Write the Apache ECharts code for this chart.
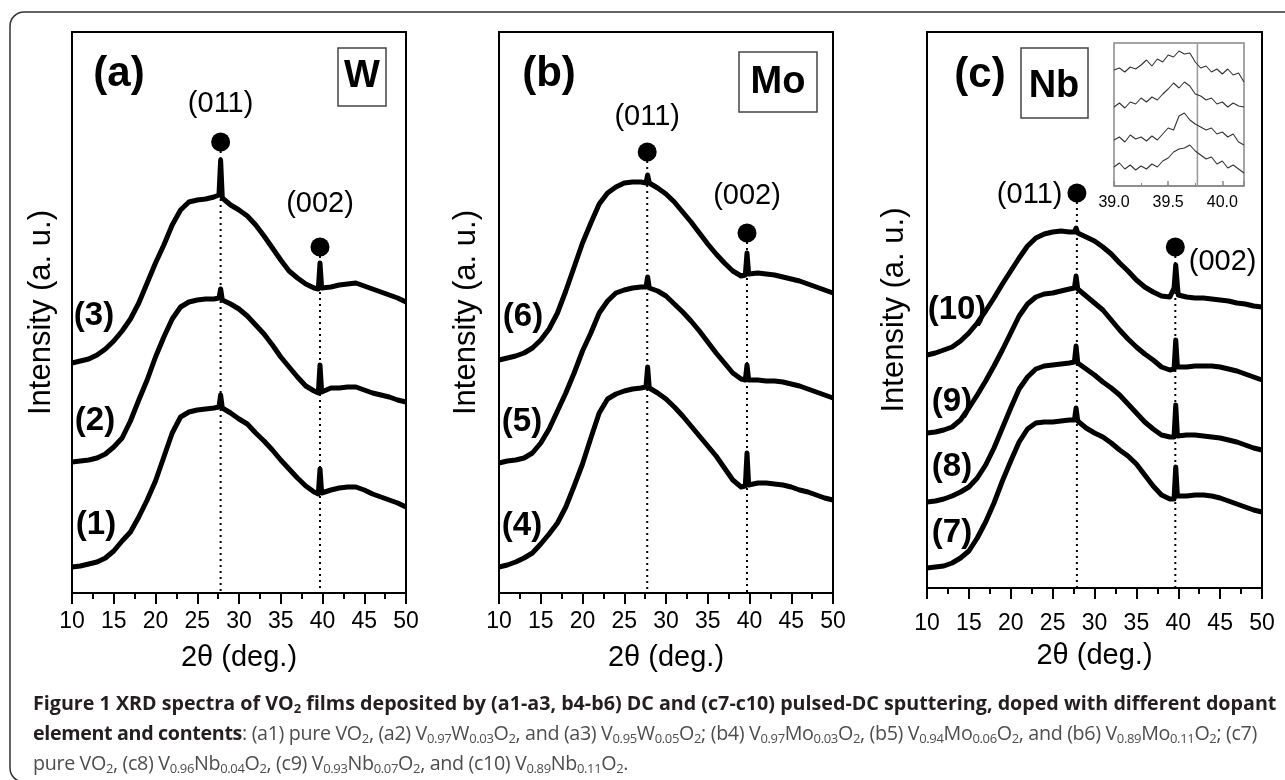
<!DOCTYPE html>
<html><head><meta charset="utf-8">
<script src="https://cdn.jsdelivr.net/npm/echarts/dist/echarts.min.js"></script>
<style>
html,body{margin:0;padding:0;background:#fff;}
#chart{position:absolute;left:0;top:0;width:1285px;height:780px;}
#cap{position:absolute;left:33px;top:688px;font-family:"Open Sans",sans-serif;font-size:19.5px;line-height:30px;color:#4d4d4d;white-space:nowrap;}
#cap b{color:#231f20;}
#cap sub{font-size:0.66em;vertical-align:-0.22em;line-height:0;}
#cap .ln{display:block;}
#cap .ln span{display:inline-block;}
</style></head><body>
<div id="chart"></div>
<div id="cap">
<span class="ln"><span id="l1"><b>Figure 1 XRD spectra of VO<sub>2</sub> films deposited by (a1-a3, b4-b6) DC and (c7-c10) pulsed-DC sputtering, doped with different dopant</b></span></span>
<span class="ln"><span id="l2"><b>element and contents</b>: (a1) pure VO<sub>2</sub>, (a2) V<sub>0.97</sub>W<sub>0.03</sub>O<sub>2</sub>, and (a3) V<sub>0.95</sub>W<sub>0.05</sub>O<sub>2</sub>; (b4) V<sub>0.97</sub>Mo<sub>0.03</sub>O<sub>2</sub>, (b5) V<sub>0.94</sub>Mo<sub>0.06</sub>O<sub>2</sub>, and (b6) V<sub>0.89</sub>Mo<sub>0.11</sub>O<sub>2</sub>; (c7)</span></span>
<span class="ln"><span id="l3">pure VO<sub>2</sub>, (c8) V<sub>0.96</sub>Nb<sub>0.04</sub>O<sub>2</sub>, (c9) V<sub>0.93</sub>Nb<sub>0.07</sub>O<sub>2</sub>, and (c10) V<sub>0.89</sub>Nb<sub>0.11</sub>O<sub>2</sub>.</span></span>
</div>
<script>
// 2-theta sampling (deg.)
const angles = [10,11,12,13,14,15,16,17,18,19,20,21,22,23,24,25,26,27,27.6,27.8,28,29,30,31,32,33,34,35,36,37,38,39,39.5,39.7,39.9,40,41,42,43,44,45,46,47,48,49,50];
// intensities (a.u., stacked offsets as in the figure)
const a1 = [26,27,29,31,35,42,52,61,76,93,112,136,160,176,181,183,184,185,186,198,185,180,174,169,160,152,143,133,124,115,107,101,99,124,100,101,103,105,106,106,103,99,96,93,90,86];
const a2 = [131,132,133,135,139,146,155,172,193,213,236,256,274,286,291,293,294,294,295,304,293,289,284,277,268,259,248,236,226,216,207,202,200,228,201,203,205,205,206,206,203,200,198,196,193,191];
const a3 = [230,232,234,238,244,252,262,274,290,310,330,348,368,383,391,393,394,396,398,433,395,388,383,377,368,357,345,333,322,315,309,305,304,330,305,306,306,308,309,310,307,304,301,298,295,291];
const b4 = [26,28,31,35,40,49,59,70,86,107,129,155,180,194,199,202,204,205,206,226,205,200,194,186,177,167,157,147,137,125,113,106,107,140,108,109,110,110,109,108,106,103,101,98,95,93];
const b5 = [130,132,133,135,140,150,164,182,200,220,242,260,280,292,300,303,305,306,306,316,305,302,297,289,281,272,262,251,240,230,220,214,213,228,213,213,213,212,212,211,209,207,204,201,198,195];
const b6 = [233,235,237,240,245,253,264,280,302,326,350,370,389,400,406,410,411,411,410,418,410,405,399,391,381,371,360,349,339,330,322,317,318,340,319,320,320,319,318,316,314,312,309,306,303,300];
const c7 = [20,21,22,25,30,37,50,66,85,107,127,146,159,165,166,166,167,168,168,180,167,160,155,151,145,138,132,124,113,102,93,89,89,121,92,91,92,93,93,92,90,87,84,81,78,76];
const c8 = [86,87,89,92,96,101,110,123,140,160,180,199,211,219,222,223,224,225,226,242,225,219,213,206,200,193,184,175,166,159,153,151,151,183,152,153,153,153,152,151,150,148,146,143,140,138];
const c9 = [155,156,158,161,168,180,193,207,222,238,255,272,284,291,294,295,297,299,300,312,299,292,285,278,268,258,249,241,234,228,221,218,219,248,221,221,221,222,222,222,221,219,217,214,211,208];
const c10 = [233,235,238,241,247,255,265,277,290,304,317,330,342,350,354,356,357,356,356,360,355,351,347,341,334,325,317,308,301,296,292,291,300,323,302,293,291,290,290,289,288,287,285,284,282,281];
// inset (panel c, 39.0-40.2 deg.)
const insetAngles = [39.00,39.05,39.10,39.15,39.20,39.25,39.30,39.35,39.40,39.45,39.50,39.55,39.60,39.65,39.70,39.75,39.80,39.85,39.90,39.95,40.00,40.05,40.10,40.15,40.20];
const insetTop = [116,118,114,119,117,121,126,120,127,124,131,129,135,132,133,124,118,120,114,117,112,117,111,113,104];
const insetSecond = [79,83,78,84,82,88,84,89,86,92,97,103,98,104,100,92,90,86,88,82,84,79,83,80,79];
const insetThird = [46,49,44,51,47,49,45,50,46,52,58,56,70,73,66,62,59,56,58,52,54,49,52,44,41];
const insetBottom = [19,23,17,21,16,20,17,22,19,25,28,34,37,38,41,35,31,27,29,22,25,18,21,17,13];
const insetRefAngle = [39.77];
// axis ticks
const xMin = 10, xMax = 50, xStep = 5;
const insetTickLabels = [39.0, 39.5, 40.0];
// reflections
const peak011 = [27.8, 27.75, 27.9];
const peak002 = [39.7, 39.7, 39.65];
const dot011 = [451, 441, 395];
const dot002 = [346, 360, 341];
const line011Top = [442, 432, 386];
const line002Top = [337, 351, 332];
const yMaxes = [561, 561, 556];
const curveNames = [['(1)','(2)','(3)'],['(4)','(5)','(6)'],['(7)','(8)','(9)','(10)']];
const dopants = ['W','Mo','Nb'];
const panelLetters = ['(a)','(b)','(c)'];

const zip = (xs, ys) => xs.map((x, i) => [x, ys[i]]);
const F = 'Liberation Sans, Arial, sans-serif';

const grids = [
  {left:72, top:32, width:334, height:561},
  {left:499, top:32, width:334, height:561},
  {left:927, top:32, width:335, height:556},
  {left:1114, top:43, width:130, height:143}
].map((g, i) => Object.assign({show:true, borderColor: i<3?'#000':'#888', borderWidth: i<3?2:1.5, backgroundColor:'transparent'}, g));

const xAxes = [0,1,2].map(i => ({
  gridIndex:i, type:'value', min:xMin, max:xMax, interval:xStep,
  axisLine:{show:true, onZero:false, lineStyle:{color:'#000', width:2}},
  axisTick:{show:true, length:11, lineStyle:{color:'#000', width:2}},
  minorTick:{show:true, splitNumber:2, length:6, lineStyle:{color:'#000', width:2}},
  axisLabel:{fontSize:23, color:'#000', fontFamily:F, margin:i===2?24:17},
  splitLine:{show:false},
  name:'2θ (deg.)', nameLocation:'middle', nameGap:i===2?53:50,
  nameTextStyle:{fontSize:29, color:'#000', fontFamily:F}
}));
xAxes.push({
  gridIndex:3, type:'value', min:insetAngles[0], max:insetAngles[insetAngles.length-1], interval:0.5,
  axisLine:{show:true, onZero:false, lineStyle:{color:'#888', width:1.5}},
  axisTick:{show:true, inside:true, length:5, lineStyle:{color:'#888', width:1.5}},
  minorTick:{show:true, splitNumber:2, length:3, lineStyle:{color:'#888'}},
  axisLabel:{fontSize:16, color:'#000', fontFamily:F, margin:9, showMaxLabel:false,
    formatter: v => insetTickLabels.some(t => Math.abs(t - v) < 1e-6) ? v.toFixed(1) : ''},
  splitLine:{show:false}
});
const yAxes = [0,1,2].map(i => ({
  gridIndex:i, type:'value', min:0, max:yMaxes[i],
  axisLine:{show:true, lineStyle:{color:'#000', width:2}},
  axisTick:{show:false}, axisLabel:{show:false}, splitLine:{show:false},
  name:'Intensity (a. u.)', nameLocation:'middle', nameGap:i===0?15:17,
  nameTextStyle:{fontSize:31, color:'#000', fontFamily:F}
}));
yAxes.push({gridIndex:3, type:'value', min:0, max:143, axisLine:{show:false}, axisTick:{show:false}, axisLabel:{show:false}, splitLine:{show:false}});

const series = [];
const curves = [[a1,a2,a3],[b4,b5,b6],[c7,c8,c9,c10]];
curves.forEach((set, p) => set.forEach(vals => series.push({
  type:'line', xAxisIndex:p, yAxisIndex:p, data:zip(angles, vals), showSymbol:false, silent:true,
  lineStyle:{color:'#000', width:5, join:'round'}, z:3
})));
// dotted reflection guides
[0,1,2].forEach(p => {
  series.push({type:'line', xAxisIndex:p, yAxisIndex:p, data:[[peak011[p], line011Top[p]],[peak011[p], 0]], showSymbol:false, silent:true, lineStyle:{color:'#000', width:2, type:[2,4]}, z:2});
  series.push({type:'line', xAxisIndex:p, yAxisIndex:p, data:[[peak002[p], line002Top[p]],[peak002[p], 0]], showSymbol:false, silent:true, lineStyle:{color:'#000', width:2, type:[2,4]}, z:2});
});
// reflection markers
const lab011 = [{position:'top', distance:14},{position:'top', distance:11},{position:'left', distance:5, offset:[0,2]}];
const lab002 = [{position:'top', distance:19},{position:'top', distance:13},{position:'right', distance:4, offset:[0,15]}];
[0,1,2].forEach(p => {
  series.push({type:'scatter', xAxisIndex:p, yAxisIndex:p, symbolSize:19, itemStyle:{color:'#000', opacity:1}, silent:true, z:5,
    data:[
      {value:[peak011[p], dot011[p]], label:Object.assign({show:true, formatter:'(011)', fontSize:29, color:'#000', opacity:1, fontFamily:F}, lab011[p])},
      {value:[peak002[p], dot002[p]], label:Object.assign({show:true, formatter:'(002)', fontSize:29, color:'#000', opacity:1, fontFamily:F}, lab002[p])}
    ]});
});
// inset
[insetTop, insetSecond, insetThird, insetBottom].forEach(v => series.push({
  type:'line', xAxisIndex:3, yAxisIndex:3, data:zip(insetAngles, v), showSymbol:false, silent:true, lineStyle:{color:'#333', width:1.1}, z:4
}));
series.push({type:'line', xAxisIndex:3, yAxisIndex:3, data:[[insetRefAngle[0],0],[insetRefAngle[0],143]], showSymbol:false, silent:true, lineStyle:{color:'#999', width:1.5}, z:3});

// annotations
const graphic = [
  {type:'rect', shape:{x:10, y:12, width:1300, height:770, r:14}, style:{fill:'none', stroke:'#333', lineWidth:1.5}, silent:true}
];
const letterPos = [[119,74],[549,74],[980,75]];
panelLetters.forEach((t,i) => graphic.push({type:'text', x:letterPos[i][0], y:letterPos[i][1], style:{text:t, font:'bold 42px '+F, fill:'#000', textAlign:'center', textVerticalAlign:'middle'}, z:10}));
const boxes = [[338,48,48,58,362,77],[739,52,78,60,778,83],[1021,48,67,70,1054,87]];
boxes.forEach((b,i) => {
  graphic.push({type:'rect', shape:{x:b[0], y:b[1], width:b[2], height:b[3]}, style:{fill:'#fff', stroke:'#444', lineWidth:1.5}, z:10});
  graphic.push({type:'text', x:b[4], y:b[5], style:{text:dopants[i], font:'bold 38px '+F, fill:'#000', textAlign:'center', textVerticalAlign:'middle'}, z:11});
});
const curveLabelPos = [[[96,525],[95,421],[94,316]],[[522,526],[522,422],[523,317]],[[952,533],[952,467],[952,402],[957,310]]];
curveNames.forEach((names,p) => names.forEach((t,k) => graphic.push({type:'text', x:curveLabelPos[p][k][0], y:curveLabelPos[p][k][1], style:{text:t, font:'bold 33px '+F, fill:'#000', textAlign:'center', textVerticalAlign:'middle'}, z:10})));

const chart = echarts.init(document.getElementById('chart'), null, {renderer:'canvas'});
chart.setOption({animation:false, grid:grids, xAxis:xAxes, yAxis:yAxes, series:series, graphic:graphic});

// scale caption so the first line spans the reference width, then tighten line 2
(function(){
  const cap = document.getElementById('cap');
  const l1 = document.getElementById('l1');
  const w = l1.getBoundingClientRect().width;
  if (w > 0) cap.style.fontSize = (19.5 * 1245 / w).toFixed(2) + 'px';
  const l2 = document.getElementById('l2');
  const w2 = l2.getBoundingClientRect().width;
  const n2 = l2.textContent.length;
  if (w2 > 1224 && n2 > 0) l2.style.letterSpacing = ((1224 - w2) / n2).toFixed(3) + 'px';
  const l3 = document.getElementById('l3');
  const n3 = l3.textContent.length;
  if (w2 > 1224 && n3 > 0) l3.style.letterSpacing = ((1224 - w2) / n2).toFixed(3) + 'px';
})();
</script>
</body></html>
